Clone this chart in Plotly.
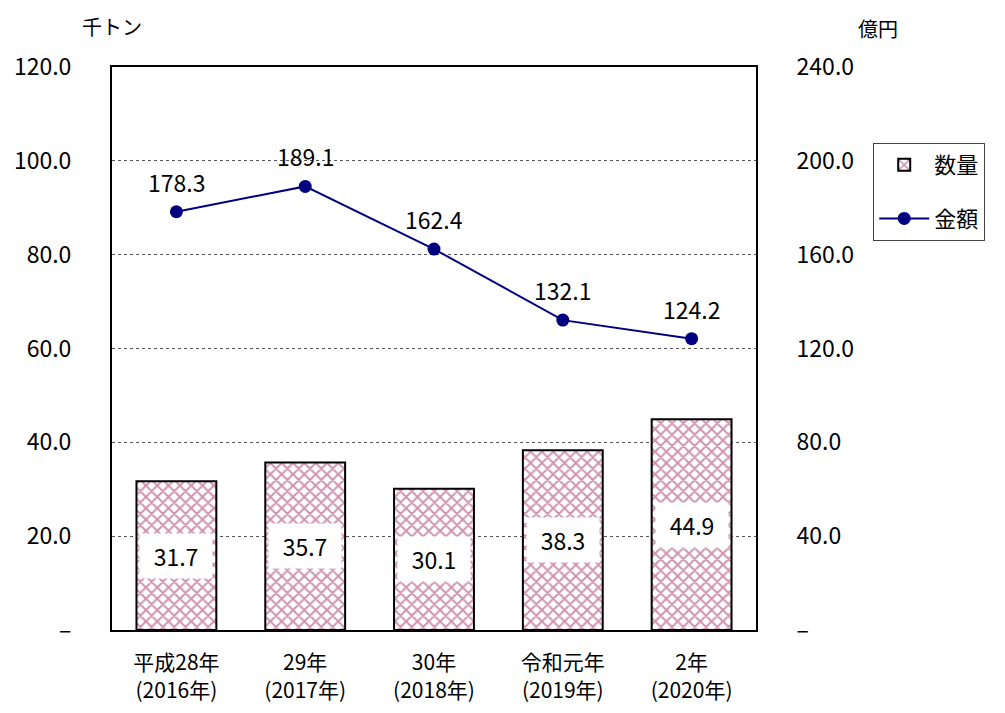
import plotly.graph_objects as go

categories = ["平成28年<br>(2016年)", "29年<br>(2017年)", "30年<br>(2018年)", "令和元年<br>(2019年)", "2年<br>(2020年)"]
quantity = [31.7, 35.7, 30.1, 38.3, 44.9]   # 千トン
amount = [178.3, 189.1, 162.4, 132.1, 124.2]  # 億円
left_ticks = [0, 20, 40, 60, 80, 100, 120]
left_ticktext = ["–", "20.0", "40.0", "60.0", "80.0", "100.0", "120.0"]
right_ticks = [0, 40, 80, 120, 160, 200, 240]
right_ticktext = ["–", "40.0", "80.0", "120.0", "160.0", "200.0", "240.0"]

FONT = "Noto Sans CJK JP"
PATTERN_COLOR = "#A02A64"
LINE_COLOR = "#000080"

fig = go.Figure()
fig.add_trace(go.Bar(
    x=categories, y=quantity, name="数量", legendgroup="a",
    marker=dict(color="white", line=dict(color="black", width=2),
                pattern=dict(shape="x", fgcolor=PATTERN_COLOR, bgcolor="white", size=8, solidity=0.45)),
    yaxis="y",
))
fig.add_trace(go.Scatter(
    x=categories, y=amount, name="金額", mode="lines+markers", legendgroup="b",
    line=dict(color=LINE_COLOR, width=2),
    marker=dict(color=LINE_COLOR, size=13),
    yaxis="y2",
))

annotations = []
for c, q in zip(categories, quantity):
    annotations.append(dict(x=c, y=q / 2, xref="x", yref="y", text=f"{q:.1f}", showarrow=False,
                            bgcolor="white", width=70, height=42,
                            font=dict(family=FONT, size=23, color="black")))
for c, a in zip(categories, amount):
    annotations.append(dict(x=c, y=a, xref="x", yref="y2", text=f"{a:.1f}", showarrow=False,
                            yshift=30, font=dict(family=FONT, size=23, color="black")))
annotations.append(dict(x=0, y=1, xref="paper", yref="paper", text="千トン", showarrow=False,
                        xanchor="center", yanchor="bottom", yshift=24,
                        font=dict(family=FONT, size=20, color="black")))
annotations.append(dict(x=1.19, y=1, xref="paper", yref="paper", text="億円", showarrow=False,
                        xanchor="center", yanchor="bottom", yshift=22,
                        font=dict(family=FONT, size=20, color="black")))

fig.update_layout(
    width=1005, height=713,
    margin=dict(l=104, r=257, t=59, b=91),
    paper_bgcolor="white", plot_bgcolor="white",
    font=dict(family=FONT, size=21, color="black"),
    bargap=0.38,
    showlegend=True,
    legend=dict(x=1.182, y=0.865, xanchor="left", yanchor="top",
                bordercolor="#444444", borderwidth=1, bgcolor="white",
                font=dict(family=FONT, size=22), tracegroupgap=22, itemwidth=50),
    xaxis=dict(showline=True, linecolor="black", linewidth=2, mirror=True,
               ticks="", tickfont=dict(family=FONT, size=21), showgrid=False,
               ticklabelstandoff=13, automargin=False),
    yaxis=dict(range=[0, 120], tickvals=left_ticks, ticktext=left_ticktext,
               showgrid=True, gridcolor="#555555", griddash="dot", gridwidth=1,
               showline=True, linecolor="black", linewidth=2, mirror=True,
               ticks="", ticklabelstandoff=34, tickfont=dict(family=FONT, size=23),
               zeroline=False, automargin=False),
    yaxis2=dict(range=[0, 240], tickvals=right_ticks, ticktext=right_ticktext,
                overlaying="y", side="right", showgrid=False, zeroline=False,
                showline=True, linecolor="black", linewidth=2,
                ticks="", ticklabelstandoff=34, tickfont=dict(family=FONT, size=23),
                automargin=False),
    annotations=annotations,
)

fig.write_html("out.html")
